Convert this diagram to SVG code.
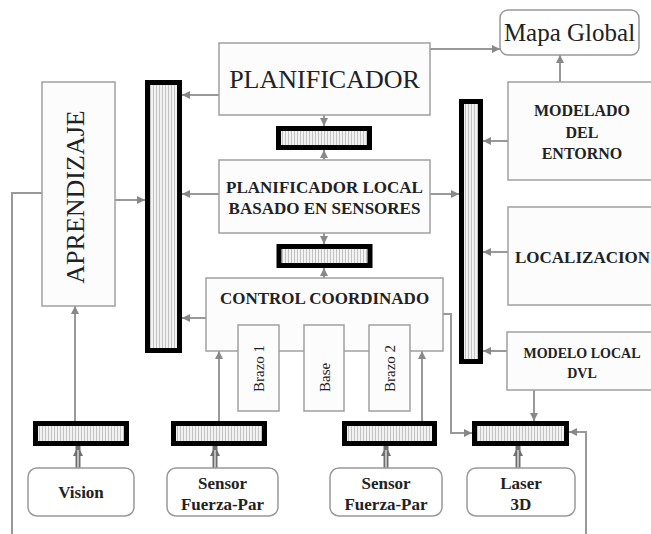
<svg xmlns="http://www.w3.org/2000/svg" width="651" height="534" viewBox="0 0 651 534">
<style>
.box{fill:#fcfcfc;stroke:#a0a0a0;stroke-width:1.5}
.rbox{fill:#fff;stroke:#999;stroke-width:1.5}
.bar{fill:url(#stripes);stroke:#000;stroke-width:5}
.c{fill:none;stroke:#999;stroke-width:2}
.dbl{fill:none;stroke:#6e6e6e;stroke-width:5}
.dbli{fill:none;stroke:#d8d8d8;stroke-width:1.5}
.t{font-family:"Liberation Serif","Times New Roman",serif;fill:#222}
.b{font-weight:bold}
</style>
<defs>
<pattern id="stripes" width="3" height="10" patternUnits="userSpaceOnUse">
<rect width="3" height="10" fill="#f2f2f2"/>
<line x1="0.5" y1="0" x2="0.5" y2="10" stroke="#b8b8b8" stroke-width="0.8"/>
</pattern>
<marker id="ah" viewBox="0 0 10 10" refX="10" refY="5" markerWidth="4" markerHeight="4" orient="auto" markerUnits="strokeWidth">
<path d="M0,0 L10,5 L0,10 z" fill="#888"/>
</marker>
<marker id="ahd" viewBox="0 0 10 10" refX="10" refY="5" markerWidth="2" markerHeight="2" orient="auto" markerUnits="strokeWidth">
<path d="M0,0 L10,5 L0,10 z" fill="#6e6e6e"/>
</marker>
</defs>

<g id="connectors">
<path class="c" d="M430,49 H500" marker-end="url(#ah)"/>
<path class="c" d="M219,95 H182" marker-end="url(#ah)"/>
<path class="c" d="M324,115 V126" marker-end="url(#ah)"/>
<path class="c" d="M324,160 V150" marker-end="url(#ah)"/>
<path class="c" d="M219,194 H182" marker-end="url(#ah)"/>
<path class="c" d="M430,194 H459" marker-end="url(#ah)"/>
<path class="c" d="M324,233 V244" marker-end="url(#ah)"/>
<path class="c" d="M324,278 V268" marker-end="url(#ah)"/>
<path class="c" d="M206,318 H182" marker-end="url(#ah)"/>
<path class="c" d="M115,200 H145" marker-end="url(#ah)"/>
<path class="c" d="M42,193 H12 V534"/>
<path class="c" d="M75,421 V306" marker-end="url(#ah)"/>
<path class="c" d="M219,421 V351" marker-end="url(#ah)"/>
<path class="c" d="M422,421 V351" marker-end="url(#ah)"/>
<path class="c" d="M443,314 H451 V433 H472" marker-end="url(#ah)"/>
<path class="c" d="M534,390 V421" marker-end="url(#ah)"/>
<path class="c" d="M586,534 V432 H569" marker-end="url(#ah)"/>
<path class="c" d="M508,141 H483" marker-end="url(#ah)"/>
<path class="c" d="M508,252 H483" marker-end="url(#ah)"/>
<path class="c" d="M507,351 H483" marker-end="url(#ah)"/>
<path class="c" d="M560,82 V55" marker-end="url(#ah)"/>
<path class="dbl" d="M78,468 V446" marker-end="url(#ahd)"/>
<path class="dbli" d="M78,468 V450"/>
<path class="dbl" d="M215,468 V446" marker-end="url(#ahd)"/>
<path class="dbli" d="M215,468 V450"/>
<path class="dbl" d="M386,468 V446" marker-end="url(#ahd)"/>
<path class="dbli" d="M386,468 V450"/>
<path class="dbl" d="M518,468 V446" marker-end="url(#ahd)"/>
<path class="dbli" d="M518,468 V450"/>
</g>

<g id="mapa-global">
<rect class="rbox" x="500" y="10" width="139" height="45" rx="8"/>
<text class="t" x="569.5" y="41" font-size="25" text-anchor="middle">Mapa Global</text>
</g>

<g id="planificador">
<rect class="box" x="219" y="43" width="211" height="72"/>
<text class="t" x="324.5" y="88" font-size="26" text-anchor="middle">PLANIFICADOR</text>
</g>

<g id="bus-1"><rect class="bar" x="278.5" y="128.5" width="91" height="19"/></g>

<g id="planificador-local">
<rect class="box" x="219" y="160" width="211" height="73"/>
<text class="t b" x="324.5" y="193" font-size="17" text-anchor="middle">PLANIFICADOR LOCAL</text>
<text class="t b" x="324.5" y="214" font-size="17" text-anchor="middle">BASADO EN SENSORES</text>
</g>

<g id="bus-2"><rect class="bar" x="279" y="246.5" width="91" height="19"/></g>

<g id="control-coordinado">
<rect class="box" x="206" y="278" width="237" height="73"/>
<text class="t b" x="324.5" y="304" font-size="17" text-anchor="middle">CONTROL COORDINADO</text>
</g>

<g id="brazo-1">
<rect class="box" x="238" y="325" width="41" height="86"/>
<text class="t" transform="translate(264,392) rotate(-90)" font-size="15">Brazo 1</text>
</g>
<g id="base">
<rect class="box" x="304" y="325" width="40" height="86"/>
<text class="t" transform="translate(329.5,392) rotate(-90)" font-size="15">Base</text>
</g>
<g id="brazo-2">
<rect class="box" x="369" y="325" width="41" height="86"/>
<text class="t" transform="translate(395,392) rotate(-90)" font-size="15">Brazo 2</text>
</g>

<g id="aprendizaje">
<rect class="box" x="42" y="82" width="73" height="224"/>
<text class="t" transform="translate(84,197) rotate(-90)" font-size="26" text-anchor="middle">APRENDIZAJE</text>
</g>

<g id="bus-left"><rect class="bar" x="147.5" y="82.5" width="32" height="268"/></g>
<g id="bus-right"><rect class="bar" x="461.5" y="101.5" width="19" height="260"/></g>

<g id="modelado-entorno">
<rect class="box" x="508" y="82" width="150" height="98"/>
<text class="t b" x="582" y="116" font-size="16" text-anchor="middle">MODELADO</text>
<text class="t b" x="582" y="138" font-size="16" text-anchor="middle">DEL</text>
<text class="t b" x="582" y="159" font-size="16" text-anchor="middle">ENTORNO</text>
</g>

<g id="localizacion">
<rect class="box" x="508" y="207" width="150" height="98"/>
<text class="t b" x="515" y="263" font-size="17">LOCALIZACION</text>
</g>

<g id="modelo-local">
<rect class="box" x="507" y="332" width="150" height="58"/>
<text class="t b" x="582" y="358" font-size="14" text-anchor="middle">MODELO LOCAL</text>
<text class="t b" x="582" y="378" font-size="14" text-anchor="middle">DVL</text>
</g>

<g id="bus-vision"><rect class="bar" x="35.5" y="423.5" width="91" height="20"/></g>
<g id="bus-sensor-1"><rect class="bar" x="173.5" y="423.5" width="91" height="20"/></g>
<g id="bus-sensor-2"><rect class="bar" x="344.5" y="423.5" width="90" height="20"/></g>
<g id="bus-laser"><rect class="bar" x="474.5" y="423.5" width="92" height="20"/></g>

<g id="vision">
<rect class="rbox" x="28" y="468" width="106" height="48" rx="9"/>
<text class="t b" x="81" y="498" font-size="17" text-anchor="middle">Vision</text>
</g>
<g id="sensor-1">
<rect class="rbox" x="167" y="468" width="111" height="48" rx="9"/>
<text class="t b" x="222.5" y="489" font-size="17" text-anchor="middle">Sensor</text>
<text class="t b" x="222.5" y="510" font-size="17" text-anchor="middle">Fuerza-Par</text>
</g>
<g id="sensor-2">
<rect class="rbox" x="330" y="468" width="112" height="48" rx="9"/>
<text class="t b" x="386" y="489" font-size="17" text-anchor="middle">Sensor</text>
<text class="t b" x="386" y="510" font-size="17" text-anchor="middle">Fuerza-Par</text>
</g>
<g id="laser-3d">
<rect class="rbox" x="467" y="468" width="108" height="48" rx="9"/>
<text class="t b" x="521" y="489" font-size="17" text-anchor="middle">Laser</text>
<text class="t b" x="521" y="510" font-size="17" text-anchor="middle">3D</text>
</g>
</svg>
